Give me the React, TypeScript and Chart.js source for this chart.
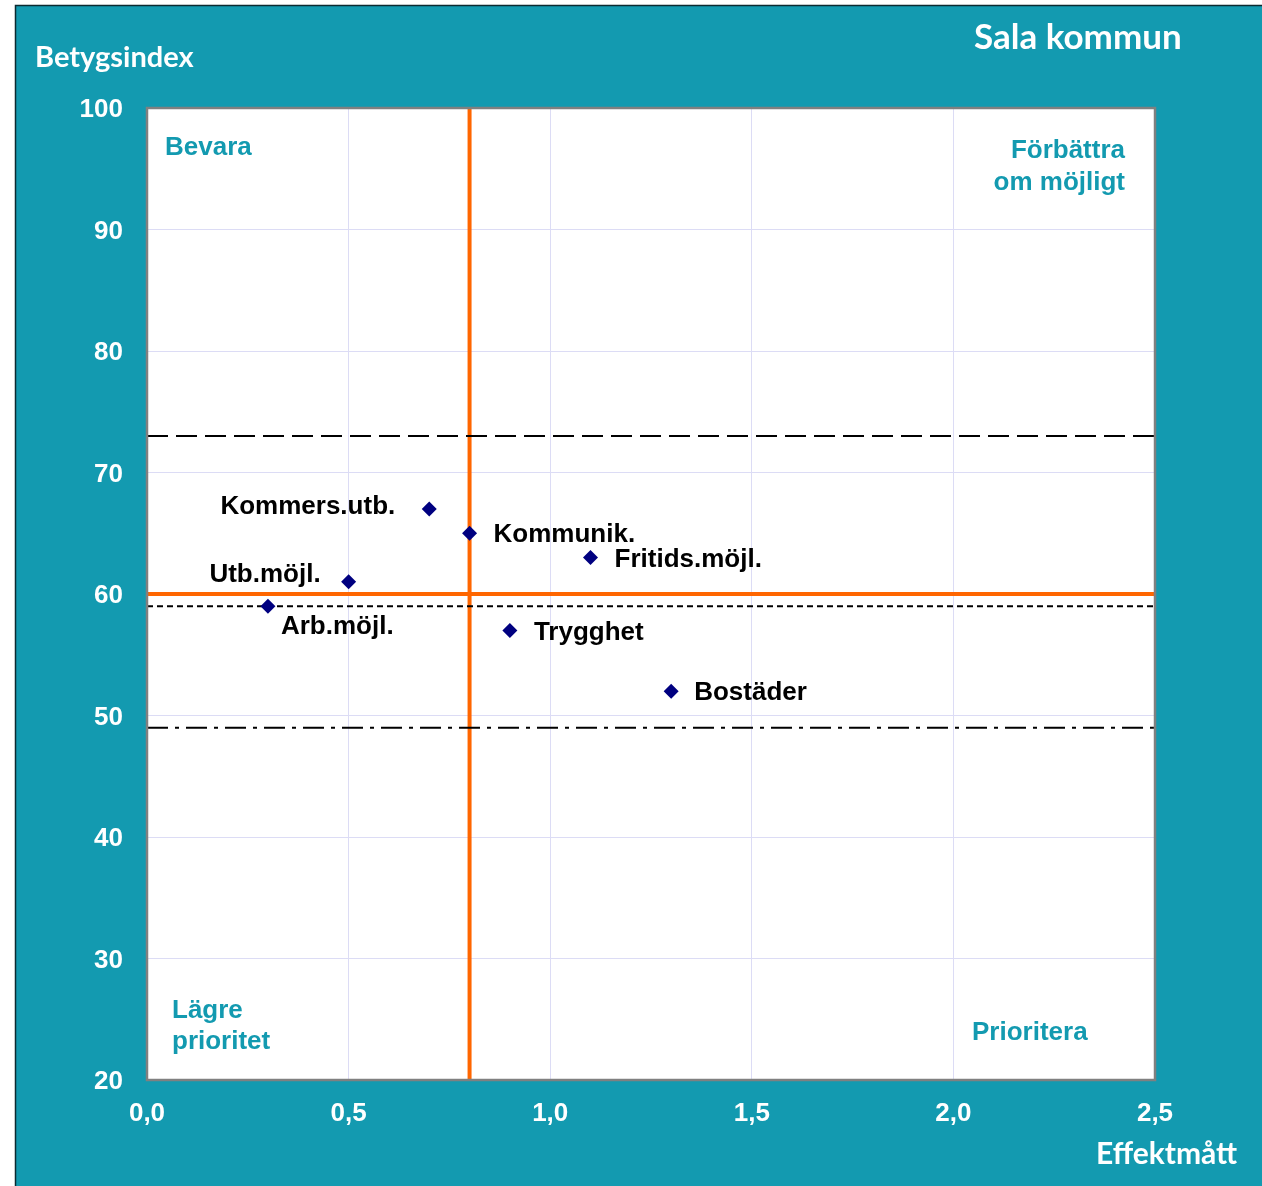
import React, { useEffect, useRef } from "react";
import { Chart, registerables } from "chart.js";

Chart.register(...registerables);

// ---- data ----
const categories = ["Kommers.utb.", "Kommunik.", "Fritids.möjl.", "Utb.möjl.", "Arb.möjl.", "Trygghet", "Bostäder"];
const effektmatt = [0.7, 0.8, 1.1, 0.5, 0.3, 0.9, 1.3];
const betygsindex = [67, 65, 63, 61, 59, 57, 52];

const xTicks = [0, 0.5, 1.0, 1.5, 2.0, 2.5];
const yTicks = [20, 30, 40, 50, 60, 70, 80, 90, 100];

const orangeX = 0.8; // vertical reference
const orangeY = 60; // horizontal reference
const upperLine = 73;
const middleLine = 59;
const lowerLine = 49;

const title = "Sala kommun";
const yTitle = "Betygsindex";
const xTitle = "Effektmått";

const TEAL = "#139AB0";
const ARIAL = '"Liberation Sans", Arial, sans-serif';
const CALIBRI = 'Lato, "Open Sans", sans-serif';

// label placement relative to point
const labelPlacement: Record<string, { align: CanvasTextAlign; dx: number; dy: number }> = {
  "Kommers.utb.": { align: "right", dx: -34, dy: -2 },
  "Kommunik.": { align: "left", dx: 24, dy: 2 },
  "Fritids.möjl.": { align: "left", dx: 24, dy: 2 },
  "Utb.möjl.": { align: "right", dx: -28, dy: -7 },
  "Arb.möjl.": { align: "left", dx: 13, dy: 21 },
  "Trygghet": { align: "left", dx: 24, dy: 2 },
  "Bostäder": { align: "left", dx: 23, dy: 2 },
};

const fmt = (v: number) => v.toFixed(1).replace(".", ",");

const decorPlugin = {
  id: "decor",
  beforeDraw(chart: any) {
    const { ctx, width, height, chartArea } = chart;
    ctx.save();
    ctx.fillStyle = "#ffffff";
    ctx.fillRect(0, 0, width, height);
    ctx.fillStyle = TEAL;
    ctx.fillRect(15, 5, width - 15, height - 5);
    ctx.strokeStyle = "#0b2a30";
    ctx.lineWidth = 1.5;
    ctx.beginPath();
    ctx.moveTo(15.5, height);
    ctx.lineTo(15.5, 5.5);
    ctx.lineTo(width, 5.5);
    ctx.stroke();
    ctx.fillStyle = "#ffffff";
    ctx.fillRect(chartArea.left, chartArea.top, chartArea.right - chartArea.left, chartArea.bottom - chartArea.top);
    ctx.restore();
  },
  afterDatasetsDraw(chart: any) {
    const { ctx, chartArea } = chart;
    const meta = chart.getDatasetMeta(0);
    ctx.save();
    ctx.font = `bold 26px ${ARIAL}`;
    ctx.fillStyle = "#000000";
    ctx.textBaseline = "middle";
    meta.data.forEach((el: any, i: number) => {
      const name = categories[i];
      const p = labelPlacement[name] || { align: "left", dx: 24, dy: 2 };
      ctx.textAlign = p.align;
      ctx.fillText(name, el.x + p.dx, el.y + p.dy);
    });

    // quadrant labels
    ctx.fillStyle = TEAL;
    ctx.textAlign = "left";
    ctx.fillText("Bevara", 165, 148);
    ctx.fillText("Lägre", 172, 1011);
    ctx.fillText("prioritet", 172, 1042);
    ctx.fillText("Prioritera", 972, 1033);
    ctx.textAlign = "right";
    ctx.fillText("Förbättra", 1125, 151);
    ctx.fillText("om möjligt", 1125, 183);

    // plot border
    ctx.strokeStyle = "#808080";
    ctx.lineWidth = 2.5;
    ctx.strokeRect(chartArea.left, chartArea.top, chartArea.right - chartArea.left, chartArea.bottom - chartArea.top);

    // titles
    ctx.fillStyle = "#ffffff";
    ctx.textAlign = "left";
    ctx.textBaseline = "middle";
    ctx.font = `bold 29px ${CALIBRI}`;
    ctx.fillText(yTitle, 35, 58);
    ctx.font = `bold 35px ${CALIBRI}`;
    ctx.fillText(title, 974, 38);
    ctx.font = `bold 30px ${CALIBRI}`;
    ctx.fillText(xTitle, 1096, 1154);
    ctx.restore();
  },
};

export default function App() {
  const ref = useRef<HTMLCanvasElement | null>(null);

  useEffect(() => {
    if (!ref.current) return;
    const hLine = (y: number) => [
      { x: xTicks[0], y },
      { x: xTicks[xTicks.length - 1], y },
    ];
    const chart = new Chart(ref.current, {
      type: "scatter",
      data: {
        datasets: [
          {
            label: "Områden",
            data: categories.map((_, i) => ({ x: effektmatt[i], y: betygsindex[i] })),
            pointStyle: "rectRot",
            pointRadius: 7.5,
            pointHoverRadius: 7.5,
            backgroundColor: "#000080",
            borderColor: "#000080",
            borderWidth: 0,
            showLine: false,
          },
          {
            label: "upper",
            data: hLine(upperLine),
            showLine: true,
            borderColor: "#000000",
            borderWidth: 2,
            borderDash: [21, 8],
            pointRadius: 0,
          },
          {
            label: "middle",
            data: hLine(middleLine),
            showLine: true,
            borderColor: "#000000",
            borderWidth: 2,
            borderDash: [6, 4],
            pointRadius: 0,
          },
          {
            label: "lower",
            data: hLine(lowerLine),
            showLine: true,
            borderColor: "#000000",
            borderWidth: 2,
            borderDash: [21, 7, 4, 7],
            pointRadius: 0,
          },
          {
            label: "orangeV",
            data: [
              { x: orangeX, y: yTicks[0] },
              { x: orangeX, y: yTicks[yTicks.length - 1] },
            ],
            showLine: true,
            borderColor: "#FF6600",
            borderWidth: 4,
            pointRadius: 0,
          },
          {
            label: "orangeH",
            data: hLine(orangeY),
            showLine: true,
            borderColor: "#FF6600",
            borderWidth: 4,
            pointRadius: 0,
          },
        ],
      },
      options: {
        animation: false,
        responsive: false,
        maintainAspectRatio: false,
        layout: { padding: { top: 108, right: 107, bottom: 0, left: 0 } },
        plugins: {
          legend: { display: false },
          tooltip: { enabled: false },
        },
        scales: {
          x: {
            type: "linear",
            min: xTicks[0],
            max: xTicks[xTicks.length - 1],
            afterBuildTicks: (scale: any) => {
              scale.ticks = xTicks.map((v) => ({ value: v }));
            },
            afterFit: (scale: any) => {
              scale.height = 106;
            },
            grid: { color: "#DCDCF5", lineWidth: 1, drawTicks: false },
            border: { display: false },
            ticks: {
              color: "#ffffff",
              font: { family: ARIAL, size: 26, weight: "bold" },
              padding: 18,
              maxRotation: 0,
              callback: (v: any) => fmt(Number(v)),
            },
          },
          y: {
            type: "linear",
            min: yTicks[0],
            max: yTicks[yTicks.length - 1],
            afterBuildTicks: (scale: any) => {
              scale.ticks = yTicks.map((v) => ({ value: v }));
            },
            afterFit: (scale: any) => {
              scale.width = 147;
            },
            grid: { color: "#DCDCF5", lineWidth: 1, drawTicks: false },
            border: { display: false },
            ticks: {
              color: "#ffffff",
              font: { family: ARIAL, size: 26, weight: "bold" },
              padding: 24,
              labelOffset: 2,
              callback: (v: any) => String(v),
            },
          },
        },
      },
      plugins: [decorPlugin],
    });
    return () => chart.destroy();
  }, []);

  return (
    <div style={{ position: "absolute", left: 0, top: 0, width: 1262, height: 1186 }}>
      <canvas ref={ref} width={1262} height={1186} style={{ width: 1262, height: 1186, display: "block" }} />
    </div>
  );
}
